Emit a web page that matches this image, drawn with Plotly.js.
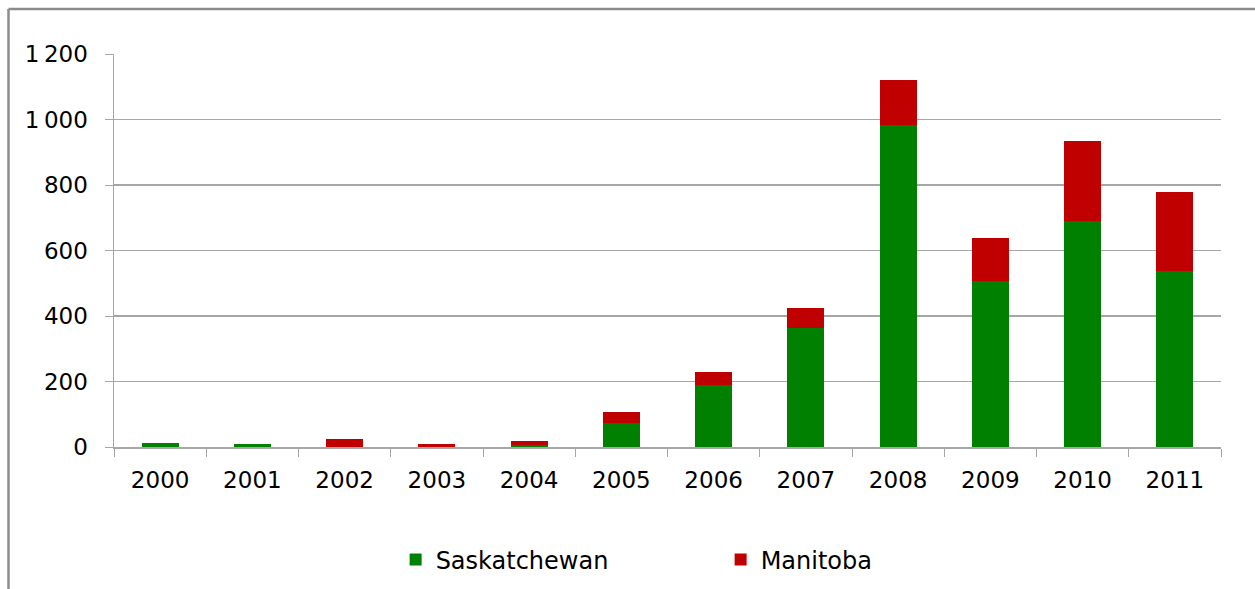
<!DOCTYPE html>
<html>
<head>
<meta charset="utf-8">
<script src="https://cdn.plot.ly/plotly-3.0.1.min.js"></script>
<style>
  html, body { margin: 0; padding: 0; background: #fff; }
  #chart { width: 1255px; height: 589px; }
</style>
</head>
<body>
<div id="chart"></div>
<script>
const years = ["2000", "2001", "2002", "2003", "2004", "2005", "2006", "2007", "2008", "2009", "2010", "2011"];
const saskatchewan = [12, 9, 0, 0, 5, 74, 188, 364, 984, 507, 690, 537];
const manitoba = [0, 0, 25, 9, 12, 32, 40, 60, 138, 132, 244, 241];
const yTicks = [0, 200, 400, 600, 800, 1000, 1200];
const yTickText = ["0", "200", "400", "600", "800", "1\u2009000", "1\u2009200"];

const colors = {
  green: "#008000",
  red: "#c00000",
  grid: "#a6a6a6",
  frame: "#8c8c8c",
  ink: "#000000"
};

const font = { family: "'DejaVu Sans', Arial, sans-serif", size: 23, color: colors.ink };

const data = [
  { x: years, y: saskatchewan, name: "Saskatchewan", type: "bar", marker: { color: colors.green } },
  { x: years, y: manitoba, name: "Manitoba", type: "bar", marker: { color: colors.red } }
];

const layout = {
  width: 1255,
  height: 589,
  barmode: "stack",
  bargap: 0.6,
  paper_bgcolor: "#ffffff",
  plot_bgcolor: "#ffffff",
  font: font,
  margin: { t: 54, r: 34, b: 142, l: 114, autoexpand: false },
  xaxis: {
    type: "category",
    showline: true,
    linecolor: colors.grid,
    linewidth: 1.5,
    ticks: "outside",
    ticklen: 8,
    tickcolor: colors.grid,
    tickson: "boundaries",
    ticklabelstandoff: 12,
    showgrid: false,
    zeroline: false
  },
  yaxis: {
    range: [0, 1200],
    tickvals: yTicks,
    ticktext: yTickText,
    showline: true,
    linecolor: colors.grid,
    linewidth: 1.5,
    ticks: "outside",
    ticklen: 8,
    tickcolor: colors.grid,
    ticklabelstandoff: 12,
    gridcolor: colors.grid,
    gridwidth: 1.5,
    zeroline: false
  },
  legend: {
    orientation: "h",
    traceorder: "normal",
    x: 0.548,
    xanchor: "center",
    y: -0.2875,
    yanchor: "middle",
    entrywidth: 280,
    itemwidth: 30,
    font: { ...font, size: 24 }
  },
  shapes: [
    { type: "line", xref: "paper", yref: "paper", x0: -0.0953, x1: -0.0953, y0: -0.4, y1: 1.1145,
      line: { color: colors.frame, width: 2.5 } },
    { type: "line", xref: "paper", yref: "paper", x0: -0.0953, x1: 1.1, y0: 1.1145, y1: 1.1145,
      line: { color: colors.frame, width: 2.5 } }
  ]
};

Plotly.newPlot("chart", data, layout, { displayModeBar: false, staticPlot: true });
</script>
</body>
</html>
